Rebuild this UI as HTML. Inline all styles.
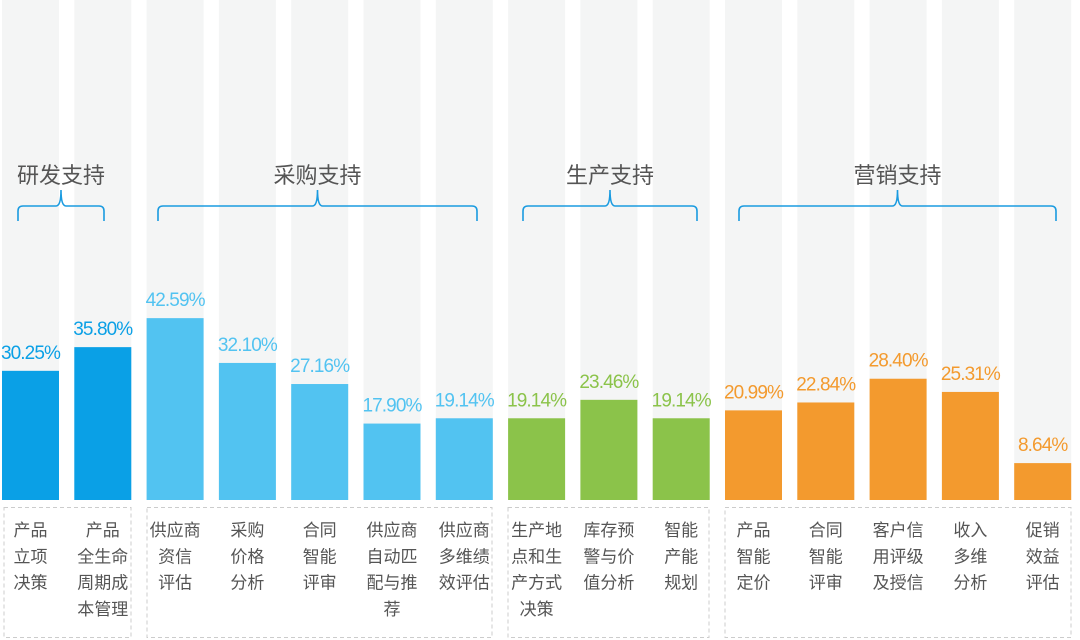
<!DOCTYPE html>
<html><head><meta charset="utf-8"><style>
html,body{margin:0;padding:0;background:#fff;}
svg{display:block;font-family:"Liberation Sans","Noto Sans CJK SC",sans-serif;}
.v{font-size:19px;text-anchor:middle;letter-spacing:-0.9px;}
.l{font-size:17px;fill:#555;text-anchor:middle;}
.t{font-size:22px;fill:#555;text-anchor:middle;}
.b{fill:none;stroke:#1a9be0;stroke-width:1.6;}
</style></head><body>
<svg width="1080" height="640" viewBox="0 0 1080 640">
<g id="g"></g>
</svg>
<script>
var d=[[30.25,'#0aa0e6',['产品','立项','决策']],[35.80,'#0aa0e6',['产品','全生命','周期成','本管理']],
[42.59,'#52c3f1',['供应商','资信','评估']],[32.10,'#52c3f1',['采购','价格','分析']],[27.16,'#52c3f1',['合同','智能','评审']],
[17.90,'#52c3f1',['供应商','自动匹','配与推','荐']],[19.14,'#52c3f1',['供应商','多维绩','效评估']],
[19.14,'#8bc34a',['生产地','点和生','产方式','决策']],[23.46,'#8bc34a',['库存预','警与价','值分析']],[19.14,'#8bc34a',['智能','产能','规划']],
[20.99,'#f39a2e',['产品','智能','定价']],[22.84,'#f39a2e',['合同','智能','评审']],[28.40,'#f39a2e',['客户信','用评级','及授信']],
[25.31,'#f39a2e',['收入','多维','分析']],[8.64,'#f39a2e',['促销','效益','评估']]];
var s='';
d.forEach(function(r,i){var x=2+i*72.3,w=57,h=r[0]*4.27,y=500-h,c=x+w/2;
s+='<rect x="'+x+'" y="0" width="'+w+'" height="500" fill="#f4f5f5"/>';
s+='<rect x="'+x+'" y="'+y+'" width="'+w+'" height="'+h+'" fill="'+r[1]+'"/>';
s+='<text class="v" x="'+c+'" y="'+(y-12)+'" fill="'+r[1]+'">'+r[0].toFixed(2)+'%</text>';
r[2].forEach(function(t,j){s+='<text class="l" x="'+c+'" y="'+(536+j*26.3)+'">'+t+'</text>';});});
var G=[[4,131,'研发支持',18,104],[147,492,'采购支持',158,477],[508,709,'生产支持',523,697],[725,1071,'营销支持',739,1056]];
G.forEach(function(g){s+='<rect x="'+g[0]+'" y="507.5" width="'+(g[1]-g[0])+'" height="130" fill="none" stroke="#ccc" stroke-dasharray="4,3"/>';
var a=g[3],b=g[4],m=(a+b)/2;
s+='<path class="b" d="M'+a+' 221 L'+a+' 211 Q'+a+' 206 '+(a+5)+' 206 L'+(m-5)+' 206 Q'+m+' 206 '+m+' 190 Q'+m+' 206 '+(m+5)+' 206 L'+(b-5)+' 206 Q'+b+' 206 '+b+' 211 L'+b+' 221"/>';
s+='<text class="t" x="'+m+'" y="183">'+g[2]+'</text>';});
document.getElementById('g').innerHTML=s;
</script>
</body></html>
